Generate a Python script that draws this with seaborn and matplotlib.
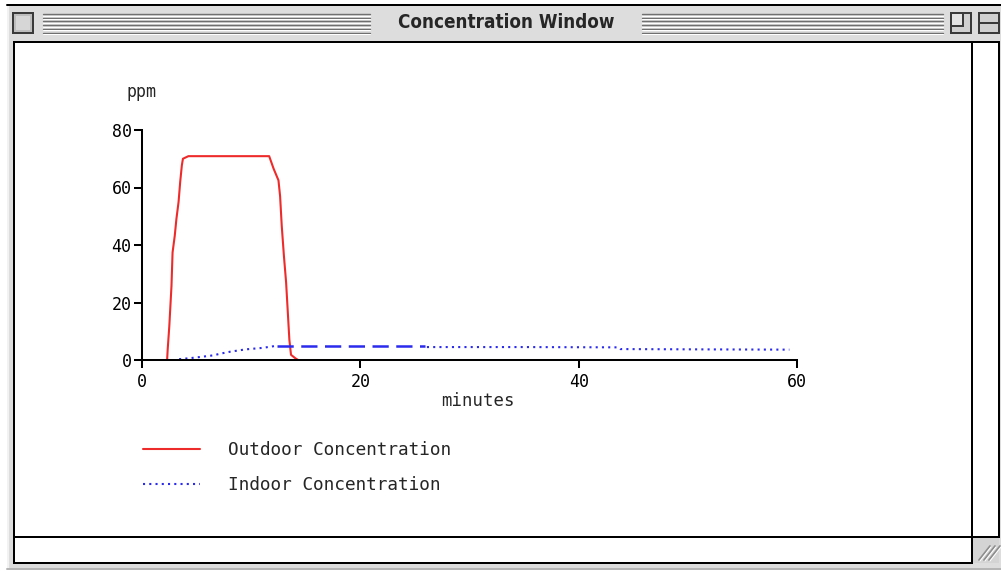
import numpy as np
import matplotlib
matplotlib.use("Agg")
import matplotlib.pyplot as plt
from matplotlib.patches import Rectangle
import seaborn as sns

# ── Data ─────────────────────────────────────────────────────────────────────
outdoor_t = [2.3, 2.35, 2.5, 2.7, 2.8, 3.0, 3.15, 3.35, 3.5, 3.65, 3.75, 4.25,
             11.65, 12.05, 12.5, 12.65, 12.8, 13.0, 13.2, 13.35, 13.5, 13.65,
             14.05, 14.3]
outdoor_ppm = [0, 3.5, 11.7, 25.7, 37.4, 43.2, 49, 55, 62, 67.7, 70, 70.9,
               70.9, 66.6, 62.5, 57, 46.7, 36.2, 27, 17, 7, 1.8,
               0.6, 0]

indoor_t = [3.4, 4.3, 5.0, 6.5, 7.3, 8.1, 9.5, 11.0, 11.9, 12.4, 19.0, 25.9,
            26.1, 35.0, 43.6, 43.8, 51.0, 59.3]
indoor_ppm = [0.3, 0.6, 0.9, 1.6, 2.3, 2.9, 3.7, 4.2, 4.7, 5.0, 5.0, 5.0,
              4.5, 4.5, 4.4, 3.8, 3.7, 3.6]
# indices where the old plotter switched the indoor trace to a dashed look
dash_from, dash_to = 9, 11

x_ticks = [0, 20, 40, 60]
y_ticks = [0, 20, 40, 60, 80]

title = "Concentration Window"
x_label = "minutes"
y_label = "ppm"
labels = ["Outdoor Concentration", "Indoor Concentration"]

RED = "#ee2b2b"
BLUE = "#2b2bee"
MONO = ["DejaVu Sans Mono"]

sns.set_style("ticks")
plt.rcParams["font.family"] = MONO

W, H = 1001, 573
fig = plt.figure(figsize=(W / 100, H / 100), dpi=100)
fig.patch.set_facecolor("white")

# ── Window chrome (pixel coordinates) ────────────────────────────────────────
bg = fig.add_axes([0, 0, 1, 1], zorder=0)
bg.set_xlim(0, W)
bg.set_ylim(H, 0)
bg.axis("off")

px = 0.72  # one pixel in points


def rect(x0, y0, x1, y1, fc="none", ec="black", lw=2, z=1):
    bg.add_patch(Rectangle((x0, y0), x1 - x0, y1 - y0, facecolor=fc,
                           edgecolor=ec, linewidth=lw * px, zorder=z))


rect(7, 4, W + 5, 569, fc="#dddddd", ec="none", z=0)
bg.plot([7, W], [4.5, 4.5], color="black", lw=2 * px, zorder=2)
bg.plot([7.5, 7.5], [5, 569], color="#f2f2f2", lw=2 * px, zorder=1)
bg.plot([7, W], [569, 569], color="#b5b5b5", lw=2 * px, zorder=1)

# title bar stripes
for y in np.arange(14, 34, 3.7):
    for xa, xb in [(43, 370), (642, 943)]:
        bg.plot([xa, xb], [y, y], color="#707070", lw=1.4 * px, zorder=2)
        bg.plot([xa, xb], [y + 1.5, y + 1.5], color="white", lw=1 * px, zorder=2)

bg.text(506, 23, title, ha="center", va="center", fontsize=13.5,
        fontweight="bold", fontstretch="condensed",
        family=["DejaVu Sans"], zorder=3)

# close box, zoom box, collapse box
rect(13, 13, 33, 33, fc="#bdbdbd", ec="#3a3a3a", z=3)
rect(16, 16, 30, 30, fc="#d6d6d6", ec="none", z=3)
rect(951, 13, 971, 33, fc="#d0d0d0", ec="#3a3a3a", z=3)
rect(951, 13, 963, 26, fc="#e4e4e4", ec="#3a3a3a", z=3)
rect(979, 13, 999, 33, fc="#d0d0d0", ec="#3a3a3a", z=3)
bg.plot([979, 999], [23, 23], color="#3a3a3a", lw=2 * px, zorder=4)

# content areas
rect(14, 42, 972, 537, fc="white", z=2)
rect(972, 42, 999, 537, fc="white", z=2)
rect(14, 537, 972, 563, fc="white", z=2)
rect(972, 537, 999, 563, fc="#d4d4d4", ec="none", z=1)
for k in range(3):
    off = k * 5
    bg.plot([979 + off, 990 + off], [560, 546], color="#8e8e8e", lw=1.8 * px, zorder=3)
    bg.plot([980 + off, 991 + off], [561, 547], color="white", lw=1.0 * px, zorder=3)

# ── Plot ─────────────────────────────────────────────────────────────────────
left, right, top, bottom = 142, 797, 130, 360
ax = fig.add_axes([left / W, 1 - bottom / H, (right - left) / W, (bottom - top) / H],
                  zorder=5)
ax.patch.set_alpha(0)

sns.lineplot(x=outdoor_t, y=outdoor_ppm, ax=ax, color=RED, linewidth=1.5,
             label=labels[0], sort=False)

dotted = (0, (1, 2))
sns.lineplot(x=indoor_t[:dash_from + 1], y=indoor_ppm[:dash_from + 1], ax=ax,
             color=BLUE, linewidth=1.5, linestyle=dotted, label=labels[1], sort=False)
sns.lineplot(x=indoor_t[dash_from:dash_to + 1], y=indoor_ppm[dash_from:dash_to + 1],
             ax=ax, color=BLUE, linewidth=1.8, linestyle=(0, (6.5, 3)), sort=False)
sns.lineplot(x=indoor_t[dash_to + 1:], y=indoor_ppm[dash_to + 1:], ax=ax,
             color=BLUE, linewidth=1.5, linestyle=dotted, sort=False)

ax.set_xlim(0, 60)
ax.set_ylim(0, 80)
ax.set_xticks(x_ticks)
ax.set_yticks(y_ticks)
ax.tick_params(direction="out", length=5.5, width=1.45, labelsize=12,
               color="black", labelcolor="black")
ax.tick_params(axis="x", pad=4)
ax.tick_params(axis="y", pad=2)
for side in ["top", "right"]:
    ax.spines[side].set_visible(False)
for side in ["left", "bottom"]:
    ax.spines[side].set_linewidth(1.45)
    ax.spines[side].set_color("black")

ax.set_xlabel(x_label, fontsize=12.5)
ax.set_ylabel(y_label, fontsize=12, rotation=0, ha="center", va="center")
ax.xaxis.set_label_coords((478 - left) / (right - left), -(392 - bottom) / (bottom - top))
ax.yaxis.set_label_coords((141 - left) / (right - left), (bottom - 92) / (bottom - top))

handles, _ = ax.get_legend_handles_labels()
ax.legend(handles=handles[:2], labels=labels, loc="upper left",
          bbox_to_anchor=(143 / W, 1 - 441 / H), bbox_transform=fig.transFigure,
          frameon=False, fontsize=12.8, handlelength=3.2, handletextpad=1.57,
          labelspacing=0.95, borderpad=0, borderaxespad=0)

fig.savefig("out.png", dpi=100)
